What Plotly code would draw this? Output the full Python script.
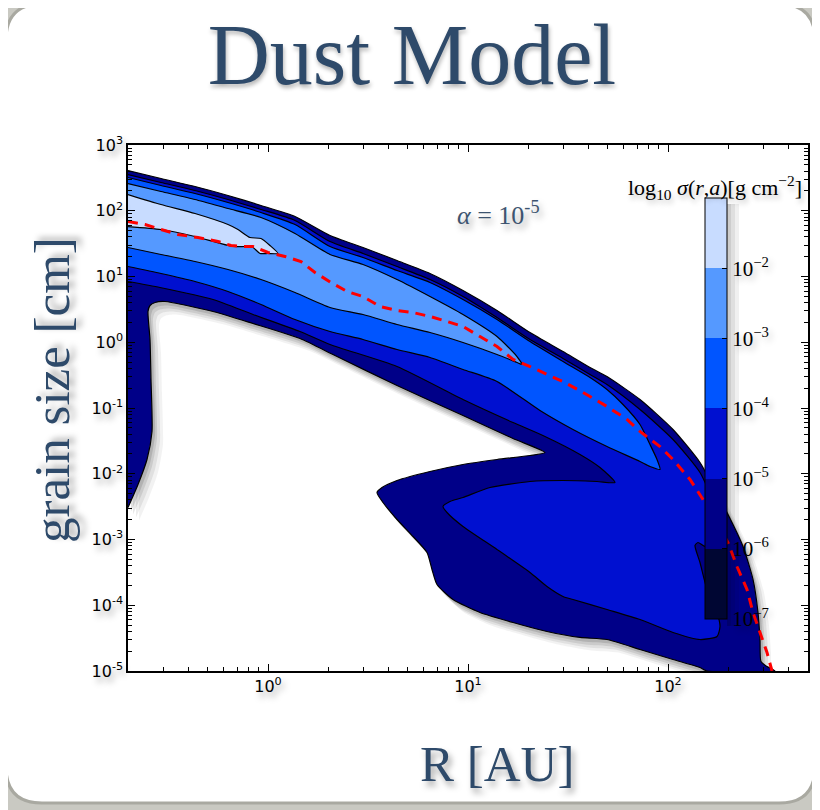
import numpy as np
import plotly.graph_objects as go

W, H = 820, 810
OFF = 8  # page body margin of the rendered html
ML, MR, MT, MB = 120, 20, 137, 147

# ---------------- data (log10 R [AU], log10 a [cm]) ----------------
# boundaries of the filled contour regions sigma > 10^level
level_values = [-6, -5, -4, -3, -2]
level_colors = ['#000088', '#0010d0', '#0055ff', '#5599ff', '#c8dcff']

band6_logR = [-0.700, -0.535, -0.365, -0.200, -0.035, 0.135, 0.310, 0.475, 0.645, 0.810, 0.975, 1.145,
              1.310, 1.475, 1.610, 1.695, 1.860, 2.025, 2.160, 2.225, 2.295, 2.375, 2.425, 2.450, 2.460,
              2.465, 2.495, 2.535, 2.195, 2.160, 2.025, 1.860, 1.695, 1.560, 1.395, 1.225, 1.060, 0.925,
              0.845, 0.820, 0.795, 0.725, 0.645, 0.575, 0.545, 0.570, 0.645, 0.810, 0.975, 1.145, 1.310,
              1.385, 1.225, 0.975, 0.645, 0.335, 0.160, -0.075, -0.275, -0.515, -0.565, -0.590, -0.600,
              -0.590, -0.585, -0.580, -0.605, -0.650, -0.700]
band6_loga = [2.612, 2.490, 2.369, 2.232, 2.080, 1.913, 1.624, 1.441, 1.243, 1.046, 0.787, 0.483,
              0.148, -0.141, -0.384, -0.521, -0.871, -1.327, -1.829, -2.194, -2.589, -3.106, -3.608, -4.110, -4.521,
              -4.856, -4.932, -5.000, -5.000, -4.947, -4.825, -4.673, -4.521, -4.490, -4.399, -4.262, -4.110, -3.913,
              -3.684, -3.456, -3.198, -2.954, -2.696, -2.437, -2.285, -2.209, -2.103, -1.966, -1.859, -1.783, -1.722,
              -1.677, -1.464, -1.114, -0.658, -0.202, 0.057, 0.285, 0.468, 0.620, 0.605, 0.559, 0.468,
              0.042, -0.567, -1.357, -1.783, -2.163, -2.513]

band5_logR = [-0.700, -0.535, -0.365, -0.200, -0.035, 0.135, 0.310, 0.475, 0.645, 0.810, 0.975, 1.145,
              1.310, 1.475, 1.610, 1.695, 1.860, 2.025, 2.160, 2.220, 2.250, 2.235, 2.185, 2.150, 2.135,
              2.160, 2.195, 2.245, 2.260, 2.245, 2.160, 2.025, 1.860, 1.695, 1.525, 1.475, 1.395, 1.310,
              1.145, 0.975, 0.895, 0.875, 0.910, 0.975, 1.110, 1.310, 1.475, 1.645, 1.735, 1.660, 1.560,
              1.385, 1.225, 0.975, 0.645, 0.310, 0.160, -0.075, -0.275, -0.540, -0.700]
band5_loga = [2.551, 2.430, 2.308, 2.171, 2.019, 1.852, 1.532, 1.350, 1.152, 0.954, 0.696, 0.376,
              0.042, -0.247, -0.490, -0.643, -1.023, -1.479, -1.981, -2.392, -2.848, -3.046, -3.106, -3.046, -3.091,
              -3.350, -3.760, -4.110, -4.323, -4.475, -4.521, -4.414, -4.217, -4.065, -3.913, -3.867, -3.715, -3.502,
              -3.152, -2.802, -2.589, -2.498, -2.422, -2.361, -2.209, -2.118, -2.103, -2.118, -2.133, -1.905, -1.707,
              -1.433, -1.221, -0.871, -0.369, -0.034, 0.163, 0.422, 0.650, 0.833, 0.924]

band4_logR = [-0.700, -0.535, -0.365, -0.200, -0.035, 0.135, 0.310, 0.475, 0.645, 0.810, 0.975, 1.145,
              1.310, 1.475, 1.610, 1.695, 1.775, 1.860, 1.910, 1.945, 1.960, 1.910, 1.860, 1.695, 1.525,
              1.360, 1.145, 0.975, 0.810, 0.645, 0.475, 0.310, 0.135, -0.035, -0.200, -0.365, -0.535, -0.700]
band4_loga = [2.506, 2.384, 2.262, 2.125, 1.973, 1.791, 1.456, 1.289, 1.091, 0.909, 0.650, 0.346,
              0.011, -0.293, -0.536, -0.719, -0.947, -1.251, -1.555, -1.783, -1.935, -1.890, -1.814, -1.586, -1.327,
              -1.038, -0.597, -0.414, -0.232, -0.110, 0.042, 0.163, 0.346, 0.574, 0.772, 0.924, 1.046, 1.152]

band3_logR = [-0.700, -0.535, -0.365, -0.200, -0.035, 0.135, 0.310, 0.475, 0.645, 0.810, 0.975, 1.145,
              1.245, 1.270, 1.245, 1.145, 0.975, 0.810, 0.645, 0.475, 0.310, 0.135, -0.035, -0.200, -0.365,
              -0.535, -0.700]
band3_loga = [2.414, 2.293, 2.171, 2.034, 1.897, 1.654, 1.335, 1.183, 0.954, 0.696, 0.422, 0.087,
              -0.217, -0.338, -0.308, -0.186, -0.004, 0.148, 0.270, 0.422, 0.529, 0.757, 0.954, 1.106, 1.228,
              1.335, 1.441]

band2_logR = [-0.700, -0.535, -0.365, -0.200, -0.150, -0.090, -0.035, 0.010, 0.050, 0.000, -0.040,
              -0.075, -0.105, -0.175, -0.365, -0.535, -0.700]
band2_loga = [2.247, 2.095, 1.958, 1.791, 1.715, 1.593, 1.578, 1.471, 1.350, 1.350, 1.350,
              1.441, 1.456, 1.456, 1.608, 1.715, 1.760]

# red dashed curve (size limit)
limit_logR = [-0.700, -0.615, -0.535, -0.450, -0.350, -0.250, -0.185, -0.125, -0.075, 0.000, 0.085, 0.165,
              0.235, 0.315, 0.395, 0.475, 0.560, 0.645, 0.725, 0.810, 0.895, 0.975, 1.060, 1.145, 1.225,
              1.310, 1.395, 1.475, 1.575, 1.695, 1.795, 1.860, 1.960, 2.025, 2.110, 2.175, 2.240, 2.300,
              2.345, 2.395, 2.425, 2.460, 2.495, 2.520]
limit_loga = [1.837, 1.791, 1.715, 1.639, 1.593, 1.532, 1.471, 1.456, 1.456, 1.365, 1.304, 1.228,
              1.061, 0.909, 0.772, 0.696, 0.544, 0.483, 0.452, 0.392, 0.316, 0.240, 0.087, -0.065, -0.262,
              -0.369, -0.490, -0.597, -0.764, -0.977, -1.175, -1.357, -1.586, -1.783, -2.087, -2.392, -2.726, -3.046,
              -3.411, -3.760, -4.110, -4.414, -4.719, -5.000]

# colour bar
cbar_levels = [-7, -6, -5, -4, -3, -2, -1]
cbar_colors = ['#000633', '#000088', '#0010d0', '#0055ff', '#5599ff', '#c8dcff']
cbar_ticks = [-7, -6, -5, -4, -3, -2]
cbar_ticktext = ['10<sup>\u22127</sup>', '10<sup>\u22126</sup>', '10<sup>\u22125</sup>',
                 '10<sup>\u22124</sup>', '10<sup>\u22123</sup>', '10<sup>\u22122</sup>']

x_tick_exp = [0, 1, 2]
y_tick_exp = [-5, -4, -3, -2, -1, 0, 1, 2, 3]

# ---------------- helpers for paper placement (screen pixels) ----------------
PW = W - ML - MR
PH = H - MT - MB
XR = [-0.7, 2.7]
YR = [-5, 3]


def ax(px):
    return (px - OFF - ML) / PW


def ay(py):
    return (H - MB - (py - OFF)) / PH


TXT = '#2e4a6a'
SH = '3px 5px 6px rgba(0,0,0,0.35)'

fig = go.Figure()

# soft drop shadow of the outer contour region
dpx = PW / (XR[1] - XR[0])
dpy = PH / (YR[1] - YR[0])
for sx, sy, al in [(11, 13, 0.05), (8, 10, 0.07), (5, 7, 0.09), (3, 4, 0.12)]:
    fig.add_trace(go.Scatter(
        x=10 ** (np.array(band6_logR) + sx / dpx), y=10 ** (np.array(band6_loga) - sy / dpy),
        mode='lines', fill='toself', fillcolor=f'rgba(0,0,0,{al})',
        line=dict(width=0, shape='spline', smoothing=0.6),
        hoverinfo='skip', showlegend=False))

bands = [
    (band6_logR, band6_loga),
    (band5_logR, band5_loga),
    (band4_logR, band4_loga),
    (band3_logR, band3_loga),
    (band2_logR, band2_loga),
]
for (lr, la), col, lev in zip(bands, level_colors, level_values):
    fig.add_trace(go.Scatter(
        x=10 ** np.array(lr), y=10 ** np.array(la),
        mode='lines', fill='toself', fillcolor=col,
        line=dict(color='black', width=1.2, shape='spline', smoothing=0.6),
        hoverinfo='skip', showlegend=False, name=f'1e{lev}'))

fig.add_trace(go.Scatter(
    x=10 ** np.array(limit_logR), y=10 ** np.array(limit_loga),
    mode='lines', line=dict(color='#ff0000', width=3, dash='10px,7px'),
    hoverinfo='skip', showlegend=False))

# colour bar via invisible marker trace
n = len(cbar_colors)
cs = []
for i, c in enumerate(cbar_colors):
    cs.append([i / n, c])
    cs.append([(i + 1) / n, c])

fig.add_trace(go.Scatter(
    x=[1], y=[1], mode='markers',
    marker=dict(size=1, opacity=0, color=[-4], colorscale=cs,
                cmin=cbar_levels[0], cmax=cbar_levels[-1], showscale=True,
                colorbar=dict(
                    x=ax(705), xanchor='left', y=ay(619), yanchor='bottom',
                    len=421, lenmode='pixels', thickness=22, thicknessmode='pixels',
                    xpad=0, ypad=0, outlinewidth=1, outlinecolor='black', borderwidth=0,
                    tickmode='array', tickvals=cbar_ticks, ticktext=cbar_ticktext,
                    ticks='inside', ticklen=5, tickcolor='black', tickwidth=1,
                    tickfont=dict(family='Liberation Serif', size=21, color='black',
                                  shadow='3px 4px 6px rgba(0,0,0,0.25)'),
                )),
    hoverinfo='skip', showlegend=False))

axis_common = dict(
    type='log', showgrid=False, zeroline=False,
    showline=True, linecolor='black', linewidth=1.5, mirror='ticks',
    ticks='inside', ticklen=7, tickwidth=1, tickcolor='black',
    tickfont=dict(family='DejaVu Sans', size=16, color='black', shadow=SH),
    minor=dict(ticks='inside', ticklen=4, tickwidth=1, tickcolor='black', showgrid=False),
)

minor_x = [m * 10.0 ** e for e in range(-1, 3) for m in range(2, 10)]
minor_y = [m * 10.0 ** e for e in range(-5, 3) for m in range(2, 10)]

fig.update_xaxes(**axis_common, range=XR,
                 tickvals=[10.0 ** e for e in x_tick_exp],
                 ticktext=[f'10<sup>{e}</sup>' for e in x_tick_exp])
fig.update_xaxes(minor=dict(tickvals=minor_x))
fig.update_yaxes(**axis_common, range=YR,
                 tickvals=[10.0 ** e for e in y_tick_exp],
                 ticktext=[f'10<sup>{e}</sup>' for e in y_tick_exp])
fig.update_yaxes(minor=dict(tickvals=minor_y))

# card background
x0, x1 = ax(6), ax(815)
y0, y1 = ay(4), ay(803)
rx, ry = 36 / PW, 36 / PH
card = (f'M {x0 + rx},{y0} L {x1 - rx},{y0} Q {x1},{y0} {x1},{y0 - ry} '
        f'L {x1},{y1 + ry} Q {x1},{y1} {x1 - rx},{y1} L {x0 + rx},{y1} '
        f'Q {x0},{y1} {x0},{y1 + ry} L {x0},{y0 - ry} Q {x0},{y0} {x0 + rx},{y0} Z')
fig.add_shape(type='path', xref='paper', yref='paper', path=card,
              fillcolor='white', line=dict(color='#a9a9a1', width=3), layer='below')

# shadow beside the colour bar
for w, al in [(12, 0.06), (8, 0.07), (4, 0.08)]:
    fig.add_shape(type='rect', xref='paper', yref='paper',
                  x0=ax(727), x1=ax(727 + w), y0=ay(626), y1=ay(204),
                  fillcolor=f'rgba(0,0,0,{al})', line=dict(width=0), layer='above')

annotations = [
    dict(text='<i>α</i> = 10<sup>-5</sup>', x=ax(498), y=ay(214),
         font=dict(family='Liberation Serif', size=26, color='#3d5470', shadow=SH)),
    dict(text='grain size [cm]', x=ax(52), y=ay(390), textangle=-90,
         font=dict(family='Liberation Serif', size=51, color=TXT, shadow=SH)),
    dict(text='R [AU]', x=ax(497), y=ay(764),
         font=dict(family='Liberation Serif', size=51, color=TXT, shadow=SH)),
    dict(text='log<sub>10</sub> <i>σ</i>(<i>r</i>,<i>a</i>)[g cm<sup>\u22122</sup>]',
         x=ax(715), y=ay(187),
         font=dict(family='Liberation Serif', size=22, color='black',
                   shadow='2px 4px 5px rgba(0,0,0,0.25)')),
]
for a in annotations:
    a.update(xref='paper', yref='paper', showarrow=False, xanchor='center', yanchor='middle')

fig.update_layout(
    width=W, height=H,
    margin=dict(l=ML, r=MR, t=MT, b=MB, autoexpand=False),
    paper_bgcolor='#c9c9c2', plot_bgcolor='white',
    title=dict(text='Dust Model', x=(412 - OFF) / W, xref='container', y=1 - (54 - OFF) / H, yref='container',
               xanchor='center', yanchor='middle',
               font=dict(family='Liberation Serif', size=86, color=TXT,
                         shadow='1px 3px 4px rgba(0,0,0,0.3)')),
    annotations=annotations,
    showlegend=False,
)

fig.write_html('out.html')
